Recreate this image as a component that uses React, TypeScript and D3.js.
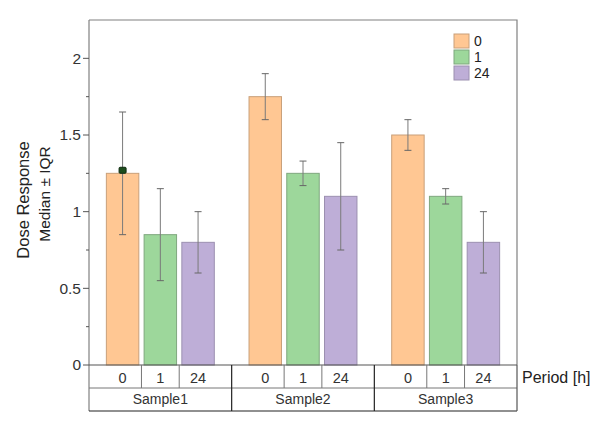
import { scaleBand, scaleLinear, range } from 'd3';

const samples = ['Sample1', 'Sample2', 'Sample3'];
const periods = ['0', '1', '24'];
// median per sample, in period order
const medians = [
  [1.25, 0.85, 0.8],
  [1.75, 1.25, 1.1],
  [1.5, 1.1, 0.8],
];
// lower / upper whiskers (IQR)
const lows = [
  [0.85, 0.55, 0.6],
  [1.6, 1.17, 0.75],
  [1.4, 1.05, 0.6],
];
const highs = [
  [1.65, 1.15, 1.0],
  [1.9, 1.33, 1.45],
  [1.6, 1.15, 1.0],
];
const yTicks = [0, 0.5, 1, 1.5, 2];
// the small selected-point marker sitting on Sample1 / 0
const markerSample = 'Sample1';
const markerPeriod = '0';
const markerValue = 1.27;

const fills = ['#FFC793', '#9DD79B', '#BEAED7'];
const strokes = ['#C9A07A', '#7FA77E', '#9C90B0'];

const W = 600;
const H = 429;
const left = 89;
const right = 517;
const top = 20;
const base = 365;
const row1 = 388;
const row2 = 411;
const font = 'Arial, "Liberation Sans", sans-serif';

export default function App() {
  const y = scaleLinear().domain([0, 2.25]).range([base, top]);
  const xg = scaleBand<string>().domain(samples).range([left, right]);
  const xi = scaleBand<string>()
    .domain(periods)
    .range([0, xg.bandwidth()])
    .paddingInner(0.14)
    .paddingOuter(0.46);
  const gap = xi.step() - xi.bandwidth();
  const minor = range(0.25, 2.25, 0.5);
  const mx = (xg(markerSample) ?? 0) + (xi(markerPeriod) ?? 0) + xi.bandwidth() / 2;

  return (
    <svg width={W} height={H} style={{ position: 'absolute', left: 0, top: 0 }} fontFamily={font}>
      <rect width={W} height={H} fill="#fff" />
      {/* frame */}
      <path d={`M${left},${top}H${right}V${base}`} fill="none" stroke="#808080" strokeWidth={1.2} />
      <line x1={left} x2={left} y1={top} y2={row2} stroke="#808080" strokeWidth={1.2} />

      {/* y axis ticks */}
      {yTicks.map((t) => (
        <g key={t}>
          <line x1={left - 6} x2={left} y1={y(t)} y2={y(t)} stroke="#555" />
          <text x={left - 8} y={y(t)} dy="0.35em" textAnchor="end" fontSize={15.5} fill="#333">
            {t}
          </text>
        </g>
      ))}
      {minor.map((t) => (
        <line key={t} x1={left - 3} x2={left} y1={y(t)} y2={y(t)} stroke="#555" />
      ))}

      {/* bars */}
      {samples.map((s, si) => (
        <g key={s} transform={`translate(${xg(s)},0)`}>
          {periods.map((p, pi) => {
            const x0 = xi(p) ?? 0;
            const cx = x0 + xi.bandwidth() / 2;
            return (
              <g key={p}>
                <rect
                  x={x0}
                  y={y(medians[si][pi])}
                  width={xi.bandwidth()}
                  height={base - y(medians[si][pi])}
                  fill={fills[pi]}
                  stroke={strokes[pi]}
                  strokeWidth={1}
                />
                <line x1={cx} x2={cx} y1={y(highs[si][pi])} y2={y(lows[si][pi])} stroke="#7a7a7a" strokeWidth={1} />
                <line x1={cx - 3.5} x2={cx + 3.5} y1={y(highs[si][pi])} y2={y(highs[si][pi])} stroke="#666" />
                <line x1={cx - 3.5} x2={cx + 3.5} y1={y(lows[si][pi])} y2={y(lows[si][pi])} stroke="#666" />
              </g>
            );
          })}
        </g>
      ))}
      <rect x={mx - 3.5} y={y(markerValue) - 3} width={7} height={6} rx={1} fill="#1d4d1d" stroke="#0d2a0d" />

      {/* category table */}
      <line x1={left} x2={right} y1={base} y2={base} stroke="#555" strokeWidth={1.2} />
      <line x1={left} x2={right} y1={row1} y2={row1} stroke="#777" strokeWidth={1} />
      <line x1={left} x2={right} y1={row2} y2={row2} stroke="#222" strokeWidth={1.2} />
      <line x1={right} x2={right} y1={base} y2={row2} stroke="#555" strokeWidth={1.2} />
      {samples.map((s, si) => {
        const g0 = xg(s) ?? 0;
        return (
          <g key={s}>
            {si > 0 && <line x1={g0} x2={g0} y1={base} y2={row2} stroke="#222" strokeWidth={1.2} />}
            {periods.map((p, pi) => {
              const x0 = g0 + (xi(p) ?? 0);
              return (
                <g key={p}>
                  {pi > 0 && (
                    <line x1={x0 - gap / 2} x2={x0 - gap / 2} y1={base} y2={row1} stroke="#777" />
                  )}
                  <text x={x0 + xi.bandwidth() / 2} y={(base + row1) / 2 + 1} dy="0.35em" textAnchor="middle" fontSize={14.5} fill="#333">
                    {p}
                  </text>
                </g>
              );
            })}
            <text x={g0 + xg.bandwidth() / 2} y={(row1 + row2) / 2} dy="0.35em" textAnchor="middle" fontSize={14} fill="#333">
              {s}
            </text>
          </g>
        );
      })}
      <text x={522} y={377} dy="0.35em" fontSize={16} fill="#222">
        Period [h]
      </text>

      {/* axis title */}
      <text transform="translate(29,200) rotate(-90)" textAnchor="middle" fontSize={16.5} fill="#222">
        Dose Response
      </text>
      <text transform="translate(50,194) rotate(-90)" textAnchor="middle" fontSize={15.5} fill="#222">
        Median ± IQR
      </text>

      {/* legend */}
      {periods.map((p, pi) => (
        <g key={p} transform={`translate(454,${34 + pi * 16})`}>
          <rect width={15} height={14} fill={fills[pi]} stroke={strokes[pi]} />
          <text x={20} y={7} dy="0.35em" fontSize={14} fill="#222">
            {p}
          </text>
        </g>
      ))}
    </svg>
  );
}
